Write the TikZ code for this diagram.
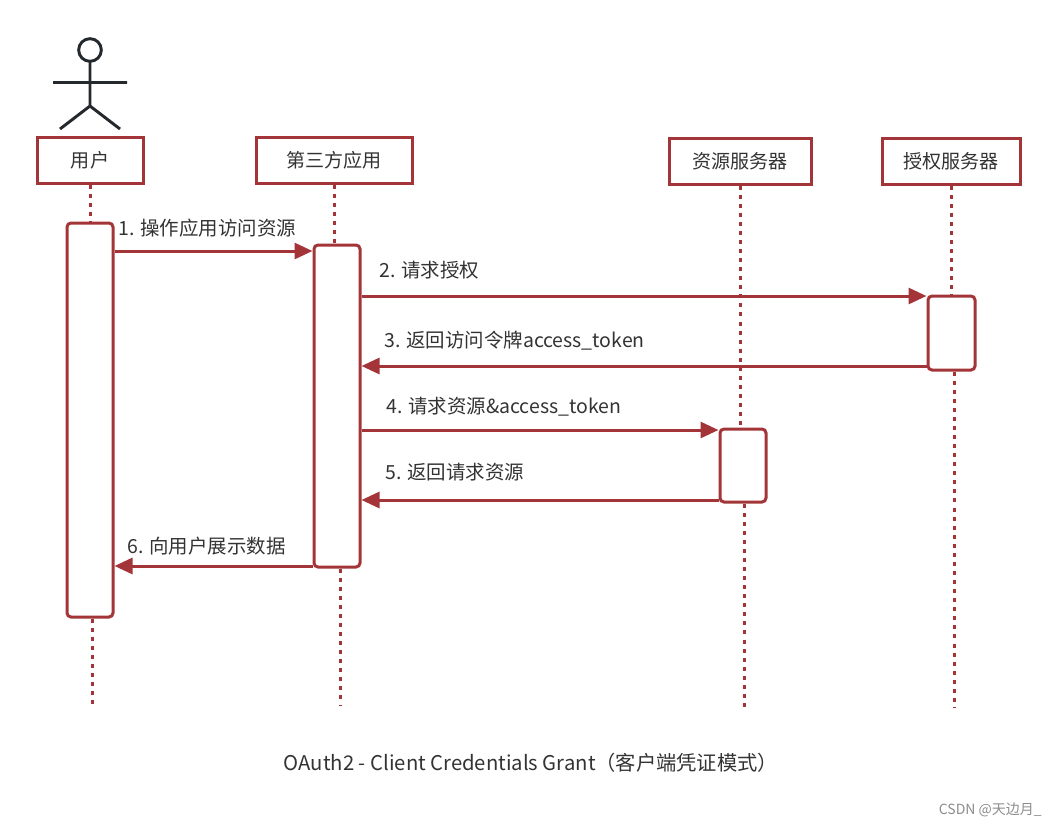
\documentclass[tikz,border=0pt]{standalone}
\usepackage{fontspec}
\setmainfont{Noto Sans CJK SC}
\usetikzlibrary{arrows.meta}
\definecolor{rd}{HTML}{A33538}
\definecolor{tx}{HTML}{333333}
\definecolor{act}{HTML}{24292E}
\begin{document}
\begin{tikzpicture}[x=0.75pt,y=-0.75pt,
  lbox/.style={draw=rd,line width=2.25pt,fill=white,minimum height=34.5pt,inner sep=0pt,text=tx,font=\fontsize{14.3}{16}\selectfont},
  actv/.style={draw=rd,line width=2.25pt,fill=white,rounded corners=3pt,minimum width=34.5pt,inner sep=0pt},
  life/.style={draw=rd,line width=2.25pt,dash pattern=on 3pt off 3.8pt},
  msg/.style={draw=rd,line width=2.25pt,-{Triangle[length=13.5pt,width=12pt]}},
  lab/.style={anchor=west,text=tx,font=\fontsize{14.6}{16}\selectfont,inner sep=0pt},
  stick/.style={draw=act,line width=2.2pt}]
\useasboundingbox (0,0) rectangle (1057,829);
% actor
\draw[stick] (90,50) circle[radius=8.5pt];
\draw[stick] (90,61.5) -- (90,106) (53,82.5) -- (127,82.5) (60,129) -- (90,106) -- (120,129);
% boxes
\node[lbox,minimum width=79.5pt] (u) at (90,160) {用户};
\node[lbox,minimum width=117pt] (t) at (334,160) {第三方应用};
\node[lbox,minimum width=106.5pt] (r) at (740,161) {资源服务器};
\node[lbox,minimum width=103.5pt] (a) at (951,161) {授权服务器};
% lifeline end points
\coordinate (ue) at (92,705);
\coordinate (te) at (340,705);
\coordinate (re) at (744,710);
\coordinate (ae) at (954,708);
% lifelines (upper parts)
\path[life] (u.south) -- (90,223);
\path[life] (t.south) -- (334,245);
\path[life] (r.south) -- (740,429);
\path[life] (a.south) -- (951,296);
% activations
\node[actv,minimum height=295.5pt] (ua) at (90,420) {};
\node[actv,minimum height=241.5pt] (ta) at (337,406) {};
\node[actv,minimum height=54.75pt] (ra) at (743,465.5) {};
\node[actv,minimum height=55.5pt,minimum width=35.25pt] (aa) at (951.5,333) {};
% lifelines (lower parts)
\path[life] (ua.south -| ue) -- (ue);
\path[life] (ta.south -| te) -- (te);
\path[life] (ra.south -| re) -- (re);
\path[life] (aa.south -| ae) -- (ae);
% messages
\path[msg] (ua.east |- 0,251) -- (ta.west |- 0,251);
\path[msg] (ta.east |- 0,296) -- (aa.west |- 0,296);
\path[msg] (aa.west |- 0,366) -- (ta.east |- 0,366);
\path[msg] (ta.east |- 0,430) -- (ra.west |- 0,430);
\path[msg] (ra.west |- 0,500) -- (ta.east |- 0,500);
\path[msg] (ta.west |- 0,566) -- (ua.east |- 0,566);
% labels
\node[lab] (l1) at (118,228) {1. 操作应用访问资源};
\node[lab] (l2) at (379,270) {2. 请求授权};
\node[lab] (l3) at (384,341) {3. 返回访问令牌access\_token};
\node[lab] (l4) at (386,407) {4. 请求资源\&access\_token};
\node[lab] (l5) at (385,472) {5. 返回请求资源};
\node[lab] (l6) at (127,546) {6. 向用户展示数据};
% caption
\node[text=tx,font=\fontsize{15.2}{17}\selectfont,inner sep=0pt] (cap) at (531,763) {OAuth2 - Client Credentials Grant（客户端凭证模式）};
\node[anchor=east,text=black!45,font=\fontsize{10.5}{12}\selectfont,inner sep=0pt] (csdn) at (1042,810) {CSDN @天边月\_};
\end{tikzpicture}
\end{document}
